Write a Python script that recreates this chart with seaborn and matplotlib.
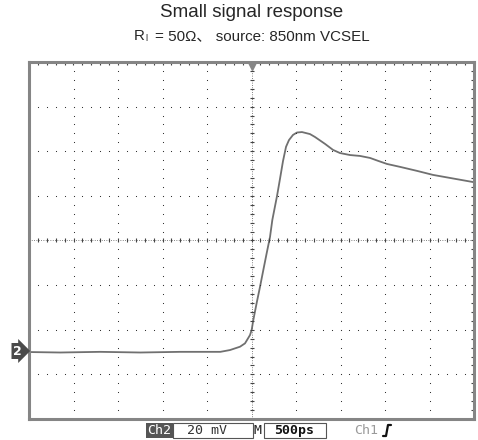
"""Small signal response, redrawn as a scope screenshot.
"""
import matplotlib
matplotlib.use("Agg")
import matplotlib.pyplot as plt
from matplotlib.lines import Line2D
import seaborn as sns
import numpy as np
import pandas as pd

# trace: time (ps, trigger at 0) and signal (mV above baseline)
time_ps = [-2480, -2150, -1700, -1250, -800, -350, -242, -129, -73, -17, 2,
           20, 58, 96, 133, 171, 208, 234, 287, 320, 354, 388, 421, 466,
           511, 567, 657, 713, 826, 916, 994, 1107, 1219, 1332, 1422, 1523,
           1669, 1860, 2039, 2264, 2489]
signal_mv = [0.0, -0.2, 0.1, -0.2, 0.1, 0.1, 0.9, 2.4, 3.9, 7.6, 9.9,
             14.3, 22.0, 29.3, 36.8, 44.4, 51.6, 59.2, 70.0, 77.6, 85.6, 92.0, 95.0, 97.3,
             98.4, 98.6, 97.7, 96.4, 93.3, 90.6, 89.2, 88.3, 87.9, 87.0, 85.7, 84.3,
             83.0, 81.2, 79.4, 77.8, 76.2]

# screen: 10 x 8 divisions, 500 ps/div, 20 mV/div, baseline 2.5 div below centre
xlim = (-2500, 2500)
ylim = (-30, 130)

title = "Small signal response"
subtitle = "= 50\u03a9\u3001 source: 850nm VCSEL"

sns.set_style("white")
plt.rcParams['font.family'] = ['Liberation Sans', 'Noto Sans CJK SC', 'DejaVu Sans']

W, H = 478, 440
fig = plt.figure(figsize=(W / 100, H / 100), dpi=100)
ax = fig.add_axes([29 / W, 1 - 419 / H, 445 / W, 357 / H])

df = pd.DataFrame({"t": time_ps, "v": signal_mv})
sns.lineplot(data=df, x="t", y="v", ax=ax, color="#707070", linewidth=1.3)
ax.set_xlim(xlim)
ax.set_ylim(ylim)
ax.set_xlabel("")
ax.set_ylabel("")

# border with 1/5 division ticks on every side
ax.set_xticks(np.arange(xlim[0], xlim[1] + 1, 100))
ax.set_yticks(np.arange(ylim[0], ylim[1] + 1, 4))
ax.tick_params(direction="in", length=2.5, width=0.8, color="#444444",
               top=True, right=True, labelbottom=False, labelleft=False)
for s in ax.spines.values():
    s.set_color("#858585")
    s.set_linewidth(2.2)

# graticule, drawn in axes fractions
tr = ax.transAxes
dot_x = np.linspace(0, 1, 51)
dot_y = np.linspace(0, 1, 41)
for k in range(1, 10):
    if k == 5:
        continue
    ax.plot(np.full_like(dot_y, k / 10), dot_y, ls="none", marker="s",
            ms=0.75, mew=0, color="#333333", transform=tr)
for j in range(1, 8):
    if j == 4:
        continue
    ax.plot(dot_x, np.full_like(dot_x, j / 8), ls="none", marker="s",
            ms=0.75, mew=0, color="#333333", transform=tr)
# centre lines: fine dots + tick dashes
ax.plot([0.5, 0.5], [0, 1], ls=(0, (0.8, 1.6)), lw=0.7, color="#666666", transform=tr)
ax.plot([0, 1], [0.5, 0.5], ls=(0, (0.8, 1.6)), lw=0.7, color="#666666", transform=tr)
ax.plot(np.full_like(dot_y, 0.5), dot_y, ls="none", marker="_", ms=3.5,
        mew=0.8, color="#444444", transform=tr)
ax.plot(dot_x, np.full_like(dot_x, 0.5), ls="none", marker="|", ms=3.5,
        mew=0.8, color="#444444", transform=tr)

# trigger position marker
ax.plot([0.5], [0.99], marker="v", ms=6, color="#858585", transform=tr, clip_on=False)

# channel 2 ground marker
fig.text(13 / W, 1 - 351 / H, "2", color="white", fontsize=9, fontweight="bold",
         family="DejaVu Sans", va="center", ha="left",
         bbox=dict(boxstyle="rarrow,pad=0.12", fc="#4a4a4a", ec="none"))

# titles
fig.text(252 / W, 1 - 17 / H, title, ha="center", va="baseline", fontsize=13.5)
fig.text(134 / W, 1 - 40 / H, "R", ha="left", va="baseline", fontsize=10.9)
fig.text(145.5 / W, 1 - 41 / H, "l", ha="left", va="baseline", fontsize=6.5)
fig.text(155 / W, 1 - 40 / H, subtitle, ha="left", va="baseline", fontsize=10.9)

# status bar
mono = "DejaVu Sans Mono"
fig.patches.append(plt.Rectangle((146 / W, 1 - 438 / H), 27 / W, 15 / H,
                                 transform=fig.transFigure, fc="#555555", ec="none"))
fig.text(159.5 / W, 1 - 430.5 / H, "Ch2", color="white", fontsize=9.5, family=mono,
         ha="center", va="center")
fig.patches.append(plt.Rectangle((173 / W, 1 - 438 / H), 80 / W, 15 / H,
                                 transform=fig.transFigure, fc="none", ec="#555555", lw=0.8))
fig.text(207 / W, 1 - 430.5 / H, "20 mV", color="#333333", fontsize=9.5, family=mono,
         ha="center", va="center")
fig.text(258 / W, 1 - 430.5 / H, "M", color="#222222", fontsize=9.5, family=mono,
         ha="center", va="center")
fig.patches.append(plt.Rectangle((264 / W, 1 - 438 / H), 62 / W, 15 / H,
                                 transform=fig.transFigure, fc="none", ec="#555555", lw=0.8))
fig.text(294 / W, 1 - 430.5 / H, "500ps", color="#111111", fontsize=9.5, family=mono,
         fontweight="bold", ha="center", va="center")
fig.text(366 / W, 1 - 430.5 / H, "Ch1", color="#9a9a9a", fontsize=9.5, family=mono,
         ha="center", va="center")
edge_x = np.array([383, 386, 388, 391]) / W
edge_y = 1 - np.array([436, 436, 425, 425]) / H
fig.lines.append(Line2D(edge_x, edge_y, transform=fig.transFigure, color="#111111", lw=1.6))

fig.savefig("out.png", dpi=100)
